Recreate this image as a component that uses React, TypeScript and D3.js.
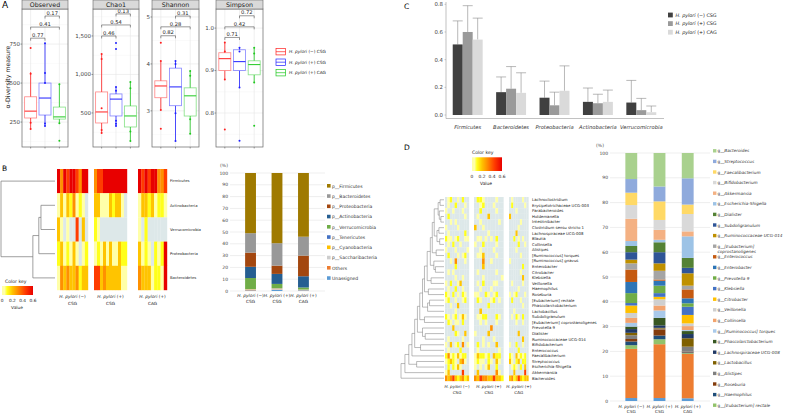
import React from "react";
import * as d3 from "d3";

// ================= Panel A data =================
const groupStatus = ["(−)", "(+)", "(+)"];
const groupSite = ["CSG", "CSG", "CAG"];
const groupColors = ["#ff1f1f", "#1f1fff", "#1fc81f"];
const facetNames = ["Observed", "Chao1", "Shannon", "Simpson"];
const facetDomains: [number, number][] = [[90, 975], [58, 1850], [2.23, 5.17], [0.72, 1.045]];
const facetTicks = [[250, 500, 750], [500, 1000, 1500], [3, 4, 5], [0.8, 0.9, 1.0]];
const facetTickLabels = [["250", "500", "750"], ["500", "1,000", "1,500"], ["3", "4", "5"], ["0.8", "0.9", "1.0"]];
// [lower whisker, q1, median, q3, upper whisker] per group
const observedBoxes = [[205, 276, 320, 412, 570], [225, 295, 404, 500, 755], [243, 269, 283, 346, 493]];
const chao1Boxes = [[240, 370, 513, 773, 1266], [331, 461, 680, 747, 838], [136, 318, 461, 591, 903]];
const shannonBoxes = [[3.02, 3.28, 3.53, 3.64, 4.06], [2.36, 3.11, 3.51, 3.91, 4.06], [2.51, 2.89, 3.32, 3.49, 3.85]];
const simpsonBoxes = [[0.879, 0.9, 0.928, 0.942, 0.966], [0.86, 0.9, 0.921, 0.949, 0.954], [0.872, 0.89, 0.914, 0.923, 0.954]];
const observedPoints = [[725, 560, 245, 205], [755, 565, 500, 240, 225], [493, 243, 130]];
const chao1Points = [[1266, 1200, 560, 280, 240], [1410, 1330, 838, 790, 400, 360, 331], [903, 820, 260, 136]];
const shannonPoints = [[4.45, 4.06, 3.02, 2.62], [4.06, 4.0, 2.95, 2.36], [3.85, 3.75, 2.82, 2.51]];
const simpsonPoints = [[0.966, 0.945, 0.879, 0.761], [0.954, 0.945, 0.86, 0.735], [0.954, 0.94, 0.872, 0.77]];
const observedP = ["0.77", "0.41", "0.17"];
const chao1P = ["0.46", "0.54", "0.13"];
const shannonP = ["0.82", "0.28", "0.31"];
const simpsonP = ["0.71", "0.42", "0.72"];
const observedBracketY = [788, 859, 930];
const chao1BracketY = [1500, 1643, 1786];
const shannonBracketY = [4.6, 4.79, 5.02];
const simpsonBracketY = [0.978, 1.003, 1.029];
const comparisonPairs = [[0, 1], [0, 2], [1, 2]];

const facetBoxes = [observedBoxes, chao1Boxes, shannonBoxes, simpsonBoxes];
const facetPoints = [observedPoints, chao1Points, shannonPoints, simpsonPoints];
const facetP = [observedP, chao1P, shannonP, simpsonP];
const facetBracketY = [observedBracketY, chao1BracketY, shannonBracketY, simpsonBracketY];

// ================= Panel B data =================
const phylaHeat = ["Firmicutes", "Actinobacteria", "Verrucomicrobia", "Proteobacteria", "Bacteroidetes"];
// digit codes per sample: 0 = absent, 1..6 = increasing relative abundance
const heatB_negCSG = ["6465665466", "1313241210", "3101005030", "2312131012", "1434334233"];
const heatB_posCSG = ["45566666666", "33111323310", "21000000000", "12131311322", "55343333311"];
const heatB_posCAG = ["656566445", "133231221", "102000000", "312102126", "433312216"];
const levelValues = [0, 0.05, 0.1, 0.2, 0.3, 0.45, 0.6];

const phylaBar = ["Firmicutes", "Bacteroidetes", "Proteobacteria", "Actinobacteria", "Verrucomicrobia", "Tenericutes", "Cyanobacteria", "Saccharibacteria", "Others", "Unassigned"];
const phylaBarColors = ["#9f7a00", "#989898", "#a3470f", "#255e91", "#70ad47", "#4472c4", "#ffc000", "#cdcdcd", "#ed7d31", "#5b9bd5"];
const phylaNegCSG = [51, 16.5, 12, 9.5, 9.3, 0.1, 0.3, 0.5, 0.3, 0.5];
const phylaPosCSG = [59.5, 19, 7, 8.5, 3.5, 0.2, 0.3, 0.7, 0.3, 1.0];
const phylaPosCAG = [54, 16, 17.5, 9.5, 1.7, 0.1, 0.2, 0.3, 0.2, 0.5];
const percentTicks = [0, 10, 20, 30, 40, 50, 60, 70, 80, 90, 100];

// ================= Panel C data =================
const phylaC = ["Firmicutes", "Bacteroidetes", "Proteobacteria", "Actinobacteria", "Verrucomicrobia"];
const meanNegCSG = [0.51, 0.165, 0.125, 0.095, 0.09];
const meanPosCSG = [0.6, 0.19, 0.07, 0.085, 0.035];
const meanPosCAG = [0.545, 0.16, 0.175, 0.095, 0.02];
const upperNegCSG = [0.68, 0.275, 0.245, 0.195, 0.25];
const upperPosCSG = [0.79, 0.35, 0.165, 0.15, 0.12];
const upperPosCAG = [0.7, 0.305, 0.355, 0.18, 0.065];
const barCColors = ["#404040", "#9a9a9a", "#dadada"];
const cTicks = [0, 0.2, 0.4, 0.6, 0.8];

// ================= Panel D data =================
const generaHeat = ["Lachnoclostridium", "Erysipelotrichaceae UCG-003", "Parabacteroides", "Holdemanella", "Intestinibacter", "Clostridium sensu stricto 1", "Lachnospiraceae UCG-008", "Blautia", "Collinsella", "Alistipes", "[Ruminococcus] torques", "[Ruminococcus] gnavus", "Enterobacter", "Citrobacter", "Klebsiella", "Veillonella", "Haemophilus", "Roseburia", "[Eubacterium] rectale", "Phascolarctobacterium", "Lactobacillus", "Subdoligranulum", "[Eubacterium] coprostanoligenes", "Prevotella 9", "Dialister", "Ruminococcaceae UCG-014", "Bifidobacterium", "Enterococcus", "Faecalibacterium", "Streptococcus", "Escherichia-Shigella", "Akkermansia", "Bacteroides"];
const heatD_negCSG = ["0120010200", "0100200010", "1001000100", "0200000010", "0010100000", "1000010000", "0100000020", "2110120011", "0102001000", "1000100001", "0200010120", "0010400010", "0000200000", "0101000000", "0000100100", "1020013000", "0100200100", "2102010210", "1200100120", "0010030000", "0000100000", "2101201310", "0210110200", "0003000000", "0000210030", "0100000100", "1030120401", "0100002000", "2412131220", "1232103410", "0202131000", "1300000500", "4345323423"];
const heatD_posCSG = ["02210000100", "00120001000", "00200000100", "01000300000", "00100000010", "30010000000", "00000100000", "01101010200", "10020000100", "00100001000", "01130000100", "00040010000", "00030000000", "01000000100", "00010000001", "01020001100", "00100010000", "11002101200", "02100012010", "00000200000", "00300000000", "01122000210", "00101000100", "00000040000", "10000300000", "00010001000", "02010100300", "01000000010", "13221203220", "12110210310", "10101300200", "03000000410", "43544335332"];
const heatD_posCAG = ["010000100", "020000010", "000100000", "300000000", "000001000", "000010000", "000300000", "002010100", "000020010", "000100000", "000001000", "100000000", "000000200", "000001000", "000000300", "010000100", "000010000", "101200010", "020001000", "000000100", "001000000", "010210200", "000100100", "000000000", "000030000", "000000300", "100200100", "000020000", "210312120", "310230220", "012102030", "003000050", "342353233"];

type Tree = number | { h: number; c: [Tree, Tree] };
const treeB: Tree = { h: 10, c: [0, { h: 4.1, c: [{ h: 3, c: [{ h: 2.6, c: [1, 2] }, 3] }, 4] }] };
const treeD: Tree = {
  h: 11, c: [{
    h: 10, c: [{
      h: 9, c: [{
        h: 8.2, c: [{
          h: 7.5, c: [{
            h: 6.8, c: [{
              h: 6.2, c: [{
                h: 5.5, c: [{
                  h: 5, c: [{
                    h: 4.3, c: [{
                      h: 3.5, c: [{
                        h: 3, c: [{
                          h: 2.5, c: [
                            { h: 1.5, c: [{ h: 1, c: [0, 1] }, { h: 1.2, c: [2, { h: 0.8, c: [3, 4] }] }] },
                            { h: 1.8, c: [{ h: 1.3, c: [5, 6] }, { h: 1.1, c: [7, 8] }] }]
                        }, { h: 2, c: [9, 10] }]
                      }, { h: 2.6, c: [11, { h: 2.2, c: [12, 13] }] }]
                    }, { h: 3.3, c: [14, 15] }]
                  }, { h: 4, c: [16, 17] }]
                }, { h: 4.2, c: [{ h: 3.7, c: [18, 19] }, 20] }]
              }, { h: 5, c: [21, 22] }]
            }, { h: 5.5, c: [23, { h: 4.8, c: [24, 25] }] }]
          }, { h: 6, c: [26, 27] }]
        }, 28]
      }, { h: 7, c: [29, 30] }]
    }, 31]
  }, 32]
};

const generaBar = ["Bacteroides", "Streptococcus", "Faecalibacterium", "Bifidobacterium", "Akkermansia", "Escherichia-Shigella", "Dialister", "Subdoligranulum", "Ruminococcaceae UCG-014", "[Eubacterium] coprostanoligenes", "Enterococcus", "Enterobacter", "Prevotella 9", "Klebsiella", "Citrobacter", "Veillonella", "Collinsella", "[Ruminococcus] torques", "Phascolarctobacterium", "Lachnospiraceae UCG-008", "Lactobacillus", "Alistipes", "Roseburia", "Haemophilus", "[Eubacterium] rectale"];
const generaColors = ["#a9d18e", "#8faadc", "#ffd966", "#d9d9d9", "#f4b183", "#9dc3e6", "#548235", "#2f5597", "#bf9000", "#a5a5a5", "#c55a11", "#2e75b6", "#70ad47", "#4472c4", "#ffc000", "#cfcfcf", "#f2a36e", "#a9c9ea", "#385723", "#203864", "#7f6000", "#7f7f7f", "#843c0c", "#1f4e79", "#92c36b"];
const genusNegCSG = [10.5, 5.5, 5, 5.5, 9, 2, 2.5, 3, 1.5, 2.5, 5, 4.5, 4, 1, 3, 2, 2, 1.5, 1, 1.5, 1, 1.5, 1, 1.5, 1.5];
const genusPosCSG = [13.5, 6, 7.5, 4, 4, 1, 4, 4.5, 3, 3.5, 0.5, 2, 3, 1.5, 1, 2.5, 2, 3, 3, 1, 0.3, 0.3, 2.5, 1.5, 2];
const genusPosCAG = [10.2, 10.6, 3.8, 7, 2, 8.7, 4, 2.2, 5, 1.5, 3.6, 2, 1.4, 3.3, 3.4, 1.1, 1.6, 0.4, 1.2, 1.7, 3.4, 2, 0.3, 0.3, 0.3];
const othersD = [19.8, 21.7, 17.9];
const unassignedD = [1.2, 1.2, 1.1];
const othersColor = "#ed7d31";
const unassignedColor = "#5b9bd5";

// ================= helpers =================
const heatScale = d3.scaleLinear<string>()
  .domain([0.05, 0.1, 0.2, 0.3, 0.45, 0.6])
  .range(["#ffffa8", "#ffff1a", "#ffc400", "#ff9000", "#ff3c00", "#e80000"])
  .clamp(true);
const zeroColor = "#dde8e9";
const heatColor = (d: number) => (d === 0 ? zeroColor : heatScale(levelValues[d]));

function layoutTree(t: Tree, yOf: (i: number) => number, xOf: (h: number) => number, segs: number[][]): { x: number; y: number } {
  if (typeof t === "number") return { x: xOf(0), y: yOf(t) };
  const a = layoutTree(t.c[0], yOf, xOf, segs);
  const b = layoutTree(t.c[1], yOf, xOf, segs);
  const x = xOf(t.h);
  segs.push([a.x, a.y, x, a.y], [b.x, b.y, x, b.y], [x, a.y, x, b.y]);
  return { x, y: (a.y + b.y) / 2 };
}

const Grp = ({ i, x, y, size, anchor = "middle" as any, site = true }: any) => (
  <text x={x} y={y} fontSize={size} textAnchor={anchor} fill="#222">
    <tspan fontStyle="italic">H. pylori</tspan>{" " + groupStatus[i] + (site ? " " + groupSite[i] : "")}
  </text>
);

// ================= Panel A =================
const facetX: [number, number][] = [[22, 68], [93, 139], [152, 199], [216, 263]];
function PanelA() {
  const top = 9, bottom = 147;
  return (
    <g>
      <text x={2} y={8} fontSize={9}>A</text>
      <text transform="translate(10,77) rotate(-90)" fontSize={6.2} textAnchor="middle" fill="#222">α-Diversity measure</text>
      {facetNames.map((name, f) => {
        const [x0, x1] = facetX[f];
        const x = d3.scalePoint<number>().domain([0, 1, 2]).range([x0, x1]).padding(0.6);
        const y = d3.scaleLinear().domain(facetDomains[f]).range([bottom, top]);
        const ticks = facetTicks[f];
        const step = ticks[1] - ticks[0];
        const minor = [ticks[0] - step / 2, ...ticks.map((t) => t + step / 2)].filter((v) => v > facetDomains[f][0] && v < facetDomains[f][1]);
        const bw = 12;
        return (
          <g key={name}>
            <rect x={x0} y={top} width={x1 - x0} height={bottom - top} fill="#fff" />
            {minor.map((v) => <line key={"m" + v} x1={x0} x2={x1} y1={y(v)} y2={y(v)} stroke="#f2f2f2" strokeWidth={0.4} />)}
            {ticks.map((v) => <line key={"g" + v} x1={x0} x2={x1} y1={y(v)} y2={y(v)} stroke="#e6e6e6" strokeWidth={0.6} />)}
            {[0, 1, 2].map((g) => <line key={"v" + g} x1={x(g)} x2={x(g)} y1={top} y2={bottom} stroke="#e6e6e6" strokeWidth={0.6} />)}
            {facetBoxes[f].map((s, g) => {
              const cx = x(g)!;
              return (
                <g key={g}>
                  <line x1={cx} x2={cx} y1={y(s[3])} y2={y(s[4])} stroke={groupColors[g]} strokeWidth={0.8} />
                  <line x1={cx} x2={cx} y1={y(s[1])} y2={y(s[0])} stroke={groupColors[g]} strokeWidth={0.8} />
                  <rect x={cx - bw / 2} y={y(s[3])} width={bw} height={y(s[1]) - y(s[3])} fill="#fff" stroke={groupColors[g]} strokeOpacity={0.55} strokeWidth={0.8} />
                  <line x1={cx - bw / 2} x2={cx + bw / 2} y1={y(s[2])} y2={y(s[2])} stroke={groupColors[g]} strokeWidth={1} />
                  {facetPoints[f][g].map((p, k) => <circle key={k} cx={cx} cy={y(p)} r={1} fill={groupColors[g]} />)}
                </g>
              );
            })}
            {comparisonPairs.map(([a, b], k) => {
              const yy = y(facetBracketY[f][k]);
              return (
                <g key={"b" + k}>
                  <path d={`M${x(a)},${yy + 2.5}V${yy}H${x(b)}V${yy + 2.5}`} fill="none" stroke="#333" strokeWidth={0.5} />
                  <text x={(x(a)! + x(b)!) / 2} y={yy - 1.3} fontSize={5.2} textAnchor="middle" fill="#222">{facetP[f][k]}</text>
                </g>
              );
            })}
            <rect x={x0} y={top} width={x1 - x0} height={bottom - top} fill="none" stroke="#666" strokeWidth={0.7} />
            <rect x={x0} y={0} width={x1 - x0} height={top} fill="#d9d9d9" stroke="#666" strokeWidth={0.6} />
            <text x={(x0 + x1) / 2} y={7} fontSize={6.3} textAnchor="middle" fill="#1a1a1a">{name}</text>
            {ticks.map((v, k) => (
              <g key={"t" + v}>
                <line x1={x0 - 1.5} x2={x0} y1={y(v)} y2={y(v)} stroke="#444" strokeWidth={0.5} />
                <text x={x0 - 2} y={y(v)} dy="0.35em" fontSize={5.5} textAnchor="end" fill="#444">{facetTickLabels[f][k]}</text>
              </g>
            ))}
            {[0, 1, 2].map((g) => <line key={"xt" + g} x1={x(g)} x2={x(g)} y1={bottom} y2={bottom + 1.5} stroke="#444" strokeWidth={0.5} />)}
          </g>
        );
      })}
      {[0, 1, 2].map((g) => {
        const ly = 51.7 + g * 10.5;
        return (
          <g key={"lg" + g}>
            <rect x={276} y={ly - 3.2} width={9.5} height={6.4} fill="#fff" stroke={groupColors[g]} strokeWidth={0.7} />
            <line x1={276} x2={285.5} y1={ly} y2={ly} stroke={groupColors[g]} strokeWidth={0.7} />
            <Grp i={g} x={289} y={ly + 1.5} size={4.3} anchor="start" />
          </g>
        );
      })}
    </g>
  );
}

// ================= Panel B =================
function PanelB() {
  const blocks: [number, number][] = [[57, 88], [94, 127], [138, 167]];
  const data = [heatB_negCSG, heatB_posCSG, heatB_posCAG];
  const yRow = d3.scaleBand<number>().domain(d3.range(phylaHeat.length)).range([169, 290]);
  const segs: number[][] = [];
  layoutTree(treeB, (i) => yRow(i)! + yRow.bandwidth() / 2, d3.scaleLinear().domain([0, 10]).range([55, 1]), segs);
  // bars
  const xb = d3.scaleBand<number>().domain([0, 1, 2]).range([229.5, 324.5]).padding(0.59);
  const yb = d3.scaleLinear().domain([0, 100]).range([291, 173]);
  const groupsB = [phylaNegCSG, phylaPosCSG, phylaPosCAG];
  const gradStops = d3.range(0, 0.61, 0.05);
  return (
    <g>
      <text x={2} y={171} fontSize={7.5}>B</text>
      <defs>
        <linearGradient id="heatGrad" x1="0" x2="1" y1="0" y2="0">
          {gradStops.map((v) => <stop key={v} offset={v / 0.6} stopColor={heatScale(Math.max(v, 0.05))} />)}
        </linearGradient>
      </defs>
      {segs.map((s, i) => <line key={i} x1={s[0]} y1={s[1]} x2={s[2]} y2={s[3]} stroke="#777" strokeWidth={0.7} />)}
      {blocks.map(([b0, b1], bi) => {
        const n = data[bi][0].length;
        const xc = d3.scaleBand<number>().domain(d3.range(n)).range([b0, b1]);
        return (
          <g key={bi}>
            {data[bi].map((row, r) => row.split("").map((ch, c) => (
              <rect key={r + "-" + c} x={xc(c)} y={yRow(r)} width={xc.bandwidth() + 0.2} height={yRow.bandwidth() + 0.2} fill={heatColor(+ch)} />
            )))}
            <Grp i={bi} x={(b0 + b1) / 2} y={298} size={4.3} site={false} />
            <text x={(b0 + b1) / 2} y={304.5} fontSize={4.3} textAnchor="middle" fill="#222">{groupSite[bi]}</text>
          </g>
        );
      })}
      {phylaHeat.map((p, i) => <text key={p} x={170} y={yRow(i)! + yRow.bandwidth() / 2} dy="0.35em" fontSize={3.8} fill="#222">{p}</text>)}
      <text x={5} y={283} fontSize={4.6} fill="#222">Color key</text>
      <rect x={2} y={286} width={31} height={9} fill="url(#heatGrad)" />
      {[0, 0.2, 0.4, 0.6].map((v) => (
        <text key={v} x={2 + (v / 0.6) * 31} y={301.5} fontSize={4.3} textAnchor="middle" fill="#222">{v === 0 ? "0" : v.toFixed(1)}</text>
      ))}
      <text x={17} y={309} fontSize={4.3} textAnchor="middle" fill="#222">Value</text>

      <text x={224} y={167} fontSize={4.5} textAnchor="middle" fill="#444">(%)</text>
      {percentTicks.map((t) => (
        <g key={t}>
          <line x1={230} x2={325} y1={yb(t)} y2={yb(t)} stroke="#dcdcdc" strokeWidth={0.5} />
          <text x={228} y={yb(t)} dy="0.35em" fontSize={4.5} textAnchor="end" fill="#444">{t}</text>
        </g>
      ))}
      {groupsB.map((vals, g) => {
        const order = d3.range(vals.length).reverse();
        let acc = 0;
        return (
          <g key={g}>
            {order.map((k) => {
              const y0 = acc; acc += vals[k];
              return <rect key={k} x={xb(g)} y={yb(acc)} width={xb.bandwidth()} height={yb(y0) - yb(acc)} fill={phylaBarColors[k]} />;
            })}
            <Grp i={g} x={xb(g)! + xb.bandwidth() / 2} y={297} size={4.3} site={false} />
            <text x={xb(g)! + xb.bandwidth() / 2} y={303} fontSize={4.3} textAnchor="middle" fill="#222">{groupSite[g]}</text>
          </g>
        );
      })}
      {phylaBar.map((p, k) => {
        const ly = 186 + k * 10.25;
        const isP = k < 8;
        return (
          <g key={p}>
            <rect x={327} y={ly - 2} width={3.6} height={3.6} fill={phylaBarColors[k]} />
            <text x={332} y={ly + 1.5} fontSize={4.5} fill="#333">{isP ? "p__" + p : p}</text>
          </g>
        );
      })}
    </g>
  );
}

// ================= Panel C =================
function PanelC() {
  const x0 = d3.scaleBand<number>().domain(d3.range(phylaC.length)).range([446, 663]).paddingInner(0.31).paddingOuter(0.155);
  const x1 = d3.scaleBand<number>().domain([0, 1, 2]).range([0, x0.bandwidth()]);
  const y = d3.scaleLinear().domain([0, 0.8]).range([115, 4.3]);
  const means = [meanNegCSG, meanPosCSG, meanPosCAG];
  const uppers = [upperNegCSG, upperPosCSG, upperPosCAG];
  return (
    <g>
      <text x={404} y={8.5} fontSize={7.5}>C</text>
      <line x1={446} x2={446} y1={2} y2={118.5} stroke="#999" strokeWidth={0.6} />
      <line x1={446} x2={664} y1={118.5} y2={118.5} stroke="#999" strokeWidth={0.6} />
      {cTicks.map((t) => (
        <g key={t}>
          <line x1={444.5} x2={446} y1={y(t)} y2={y(t)} stroke="#999" strokeWidth={0.5} />
          <text x={443} y={y(t)} dy="0.35em" fontSize={5.4} textAnchor="end" fill="#444">{t.toFixed(1)}</text>
        </g>
      ))}
      {phylaC.map((p, i) => (
        <g key={p}>
          {[0, 1, 2].map((g) => {
            const bx = x0(i)! + x1(g)!;
            const bwid = x1.bandwidth();
            const cx = bx + bwid / 2;
            return (
              <g key={g}>
                <line x1={cx} x2={cx} y1={y(means[g][i])} y2={y(uppers[g][i])} stroke="#8a8a8a" strokeWidth={0.6} />
                <line x1={bx} x2={bx + bwid} y1={y(uppers[g][i])} y2={y(uppers[g][i])} stroke="#8a8a8a" strokeWidth={0.6} />
                <rect x={bx} y={y(means[g][i])} width={bwid} height={y(0) - y(means[g][i])} fill={barCColors[g]} />
              </g>
            );
          })}
          <text x={x0(i)! + x0.bandwidth() / 2} y={128.5} fontSize={5.2} fontStyle="italic" textAnchor="middle" fill="#333">{p}</text>
        </g>
      ))}
      {[0, 1, 2].map((g) => {
        const ly = 15 + g * 8.6;
        return (
          <g key={"l" + g}>
            <rect x={668} y={ly - 2.4} width={4.8} height={4.8} fill={barCColors[g]} />
            <Grp i={g} x={675.5} y={ly + 1.7} size={4.8} anchor="start" />
          </g>
        );
      })}
    </g>
  );
}

// ================= Panel D =================
function PanelD() {
  const blocks: [number, number][] = [[445, 469], [474, 503.5], [509, 528.5]];
  const data = [heatD_negCSG, heatD_posCSG, heatD_posCAG];
  const yRow = d3.scaleBand<number>().domain(d3.range(generaHeat.length)).range([197, 381]);
  const segs: number[][] = [];
  layoutTree(treeD, (i) => yRow(i)! + yRow.bandwidth() / 2, d3.scaleLinear().domain([0, 11]).range([444, 401]), segs);
  const xb = d3.scaleBand<number>().domain([0, 1, 2]).range([609, 710]).padding(0.58);
  const yb = d3.scaleLinear().domain([0, 100]).range([401, 153]);
  const groupsD = [genusNegCSG, genusPosCSG, genusPosCAG];
  return (
    <g>
      <text x={404} y={150} fontSize={7.5}>D</text>
      <text x={472} y={154} fontSize={4.6} fill="#222">Color key</text>
      <rect x={472} y={157.3} width={30} height={13.7} fill="url(#heatGrad)" />
      {[0, 0.2, 0.4, 0.6].map((v) => (
        <text key={v} x={472 + (v / 0.6) * 30} y={178} fontSize={4.4} textAnchor="middle" fill="#222">{v === 0 ? "0" : v.toFixed(1)}</text>
      ))}
      <text x={486} y={185} fontSize={4.4} textAnchor="middle" fill="#222">Value</text>
      {segs.map((s, i) => <line key={i} x1={s[0]} y1={s[1]} x2={s[2]} y2={s[3]} stroke="#777" strokeWidth={0.5} />)}
      {blocks.map(([b0, b1], bi) => {
        const n = data[bi][0].length;
        const xc = d3.scaleBand<number>().domain(d3.range(n)).range([b0, b1]);
        return (
          <g key={bi}>
            {data[bi].map((row, r) => row.split("").map((ch, c) => (
              <rect key={r + "-" + c} x={xc(c)} y={yRow(r)} width={xc.bandwidth() + 0.15} height={yRow.bandwidth() + 0.15} fill={heatColor(+ch)} />
            )))}
            <Grp i={bi} x={(b0 + b1) / 2} y={388} size={4.1} site={false} />
            <text x={(b0 + b1) / 2} y={394} fontSize={4.1} textAnchor="middle" fill="#222">{groupSite[bi]}</text>
          </g>
        );
      })}
      {generaHeat.map((p, i) => <text key={p} x={532} y={yRow(i)! + yRow.bandwidth() / 2} dy="0.35em" fontSize={3.9} fill="#222">{p}</text>)}

      <text x={600} y={147} fontSize={4.5} textAnchor="middle" fill="#444">(%)</text>
      {percentTicks.map((t) => (
        <g key={t}>
          <line x1={610} x2={710} y1={yb(t)} y2={yb(t)} stroke="#dcdcdc" strokeWidth={0.5} />
          <text x={608} y={yb(t)} dy="0.35em" fontSize={4.5} textAnchor="end" fill="#444">{t}</text>
        </g>
      ))}
      {groupsD.map((vals, g) => {
        const segsBar: { v: number; c: string }[] = [
          { v: unassignedD[g], c: unassignedColor },
          { v: othersD[g], c: othersColor },
          ...d3.range(vals.length).reverse().map((k) => ({ v: vals[k], c: generaColors[k] })),
        ];
        let acc = 0;
        return (
          <g key={g}>
            {segsBar.map((s, k) => {
              const y0 = acc; acc += s.v;
              return <rect key={k} x={xb(g)} y={yb(acc)} width={xb.bandwidth()} height={yb(y0) - yb(acc)} fill={s.c} />;
            })}
            <Grp i={g} x={xb(g)! + xb.bandwidth() / 2} y={407.5} size={4.2} site={false} />
            <text x={xb(g)! + xb.bandwidth() / 2} y={413} fontSize={4.2} textAnchor="middle" fill="#222">{groupSite[g]}</text>
          </g>
        );
      })}
      {generaBar.map((p, k) => {
        const ly = 151 + k * 10.6;
        const two = p === "[Eubacterium] coprostanoligenes";
        return (
          <g key={p}>
            <rect x={713} y={ly - 1.9} width={3.4} height={3.4} fill={generaColors[k]} />
            {two ? (
              <>
                <text x={717.5} y={ly + 1.4} fontSize={4.2} fill="#333">g__<tspan fontStyle="italic">[Eubacterium]</tspan></text>
                <text x={717.5} y={ly + 6.4} fontSize={4.2} fill="#333" fontStyle="italic">coprostanoligenes</text>
              </>
            ) : (
              <text x={717.5} y={ly + 1.4} fontSize={4.2} fill="#333">g__<tspan fontStyle="italic">{p}</tspan></text>
            )}
          </g>
        );
      })}
    </g>
  );
}

export default function App() {
  return (
    <svg width={787} height={416} style={{ position: "absolute", left: 0, top: 0, background: "#fff" }} fontFamily="DejaVu Sans">
      <rect width={787} height={416} fill="#fff" />
      <PanelB />
      <PanelA />
      <PanelC />
      <PanelD />
    </svg>
  );
}
